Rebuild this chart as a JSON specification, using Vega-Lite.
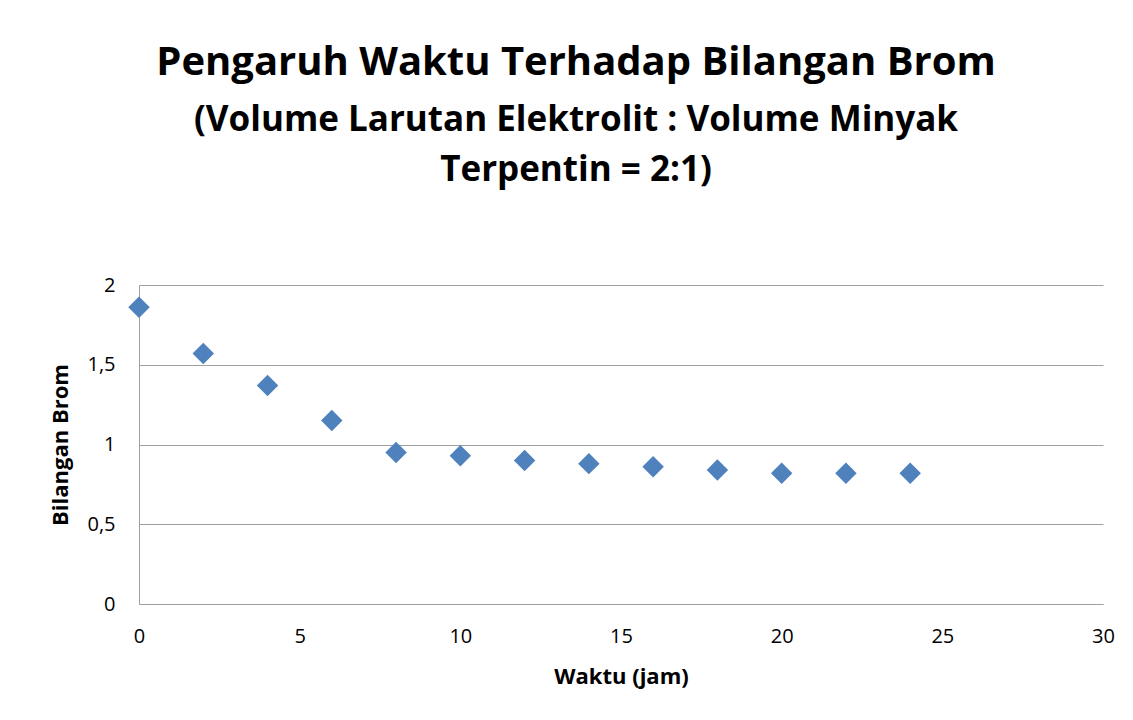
{
  "$schema": "https://vega.github.io/schema/vega-lite/v6.json",
  "width": 964,
  "height": 319,
  "autosize": {"type": "none"},
  "padding": {"left": 139, "top": 285, "right": 30, "bottom": 116},
  "background": "white",
  "title": {
    "text": "Pengaruh Waktu Terhadap Bilangan Brom",
    "subtitle": ["(Volume Larutan Elektrolit : Volume Minyak", "Terpentin = 2:1)"],
    "anchor": "middle",
    "dx": -45,
    "font": "Open Sans",
    "fontSize": 40,
    "fontWeight": "bold",
    "color": "black",
    "subtitleFont": "Open Sans",
    "subtitleFontSize": 35,
    "subtitleFontWeight": "bold",
    "subtitleColor": "black",
    "subtitleLineHeight": 50,
    "subtitlePadding": 20,
    "offset": 87
  },
  "config": {
    "view": {"stroke": null},
    "axis": {
      "labelFont": "Open Sans",
      "labelFontSize": 20,
      "labelColor": "black",
      "titleFont": "Open Sans",
      "titleFontSize": 22,
      "titleFontWeight": "bold",
      "titleColor": "black",
      "ticks": false,
      "domainColor": "#a0a0a0",
      "gridColor": "#a0a0a0",
      "gridOpacity": 1
    }
  },
  "data": {
    "values": [
      {"waktu": 0, "brom": 1.86},
      {"waktu": 2, "brom": 1.57},
      {"waktu": 4, "brom": 1.37},
      {"waktu": 6, "brom": 1.15},
      {"waktu": 8, "brom": 0.95},
      {"waktu": 10, "brom": 0.93},
      {"waktu": 12, "brom": 0.9},
      {"waktu": 14, "brom": 0.88},
      {"waktu": 16, "brom": 0.86},
      {"waktu": 18, "brom": 0.84},
      {"waktu": 20, "brom": 0.82},
      {"waktu": 22, "brom": 0.82},
      {"waktu": 24, "brom": 0.82}
    ]
  },
  "mark": {"type": "point", "shape": "diamond", "filled": true, "size": 460, "color": "#4f81bd", "opacity": 1},
  "encoding": {
    "x": {
      "field": "waktu",
      "type": "quantitative",
      "scale": {"domain": [0, 30], "nice": false},
      "axis": {"values": [0, 5, 10, 15, 20, 25, 30], "grid": false, "labelFlush": false, "title": "Waktu (jam)", "labelPadding": 22, "titlePadding": 20}
    },
    "y": {
      "field": "brom",
      "type": "quantitative",
      "scale": {"domain": [0, 2], "nice": false},
      "axis": {"values": [0, 0.5, 1, 1.5, 2], "labelFlush": false, "labelExpr": "replace(toString(datum.value), '.', ',')", "title": "Bilangan Brom", "labelPadding": 24, "titlePadding": 14}
    }
  }
}
